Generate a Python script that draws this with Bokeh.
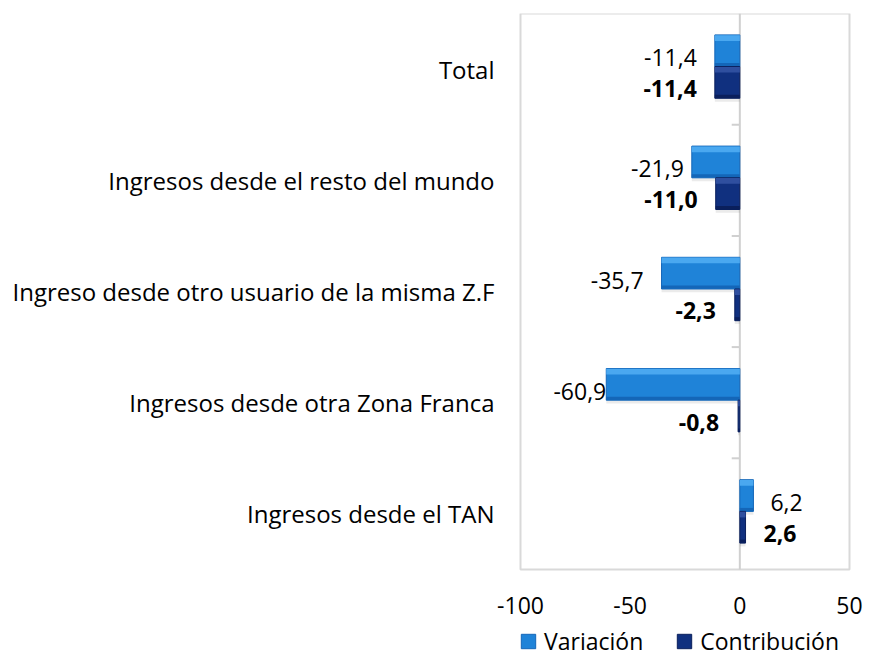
from bokeh.plotting import figure
from bokeh.models import (ColumnDataSource, Range1d, FixedTicker, Legend,
                          LegendItem)
from bokeh.core.properties import value
from bokeh.embed import file_html
from bokeh.resources import INLINE

# ---------------- data ----------------
categories = ["Total",
              "Ingresos desde el resto del mundo",
              "Ingreso desde otro usuario de la misma Z.F",
              "Ingresos desde otra Zona Franca",
              "Ingresos desde el TAN"]
variacion = [-11.4, -21.9, -35.7, -60.9, 6.2]
contribucion = [-11.4, -11.0, -2.3, -0.8, 2.6]
x_ticks = [-100, -50, 0, 50]
x_tick_labels = ["-100", "-50", "0", "50"]
series_names = ["Variación", "Contribución"]

# label gaps (px) between bar end and its data label
gap_var = [18, 8, 18, 0, 17]
gap_con = [18, 18, 19, 19, 18]

# ---------------- layout constants (px) ----------------
FONT = "Open Sans"
FIG_W, FIG_H = 863, 658
FRAME_LEFT, FRAME_TOP = 496, 13      # drawing area (wider than the chart box)
CHART_LEFT = 520                     # left edge of the bordered chart box
CHART_W, CHART_H = 329, 556
VAR_COLORS = ("#1f83d8", "#4aa8f0", "#1466b8")
CON_COLORS = ("#10307f", "#2f4f9f", "#0a1f5c")
GRAY = "#d0d0d0"

n = len(categories)
pos = [n - 1 - i for i in range(n)]          # Total on top
H = 0.285
y_var = [p + 0.165 for p in pos]
y_con = [p - 0.12 for p in pos]

px_x = CHART_W / (x_ticks[-1] - x_ticks[0])
px_y = CHART_H / n
x_start = x_ticks[0] - (CHART_LEFT - FRAME_LEFT) / px_x
x_end = x_ticks[-1] + (FIG_W - CHART_LEFT - CHART_W) / px_x
y_start = -0.5 - (FIG_H - FRAME_TOP - CHART_H) / px_y


def fmt(v):
    return f"{v:.1f}".replace(".", ",")


def src(vals, ys, gaps):
    return ColumnDataSource(dict(
        y=ys, v=vals, zero=[0] * len(vals),
        ytop=[y + H * 0.40 for y in ys],
        ybot=[y - H * 0.44 for y in ys],
        yshadow=[y - 0.03 for y in ys],
        lab=[fmt(v) for v in vals],
        align=["right" if v < 0 else "left" for v in vals],
        xoff=[-g if v < 0 else g for v, g in zip(vals, gaps)],
    ))


s_var = src(variacion, y_var, gap_var)
s_con = src(contribucion, y_con, gap_con)

p = figure(width=FIG_W, height=FIG_H,
           x_range=Range1d(x_start, x_end),
           y_range=Range1d(y_start, n - 0.5),
           x_axis_location=None,
           output_backend="svg", toolbar_location=None,
           min_border_left=FRAME_LEFT, min_border_right=0,
           min_border_top=FRAME_TOP, min_border_bottom=0)

p.background_fill_color = "white"
p.border_fill_color = "white"
p.outline_line_color = None
p.grid.visible = False

# y axis with category names
p.yaxis.ticker = FixedTicker(ticks=pos)
p.yaxis.major_label_overrides = {pp: c for pp, c in zip(pos, categories)}
p.yaxis.axis_line_color = None
p.yaxis.major_tick_line_color = None
p.yaxis.minor_tick_line_color = None
p.yaxis.major_tick_in = 0
p.yaxis.major_tick_out = 0
p.yaxis.major_label_text_font = FONT
p.yaxis.major_label_text_font_size = "24px"
p.yaxis.major_label_text_color = "#000000"
p.yaxis.major_label_standoff = 2

# chart border
p.quad(left=[x_ticks[0]], right=[x_ticks[-1]], bottom=[-0.5], top=[n - 0.5],
       fill_color=None, line_color="#d9d9d9", line_width=2)
# zero line
p.segment(x0=[0], x1=[0], y0=[-0.5], y1=[n - 0.5], line_color=GRAY,
          line_width=2)
# category separator ticks on the zero axis
bounds = [i + 0.5 for i in range(n - 1)]
p.segment(x0=[-3.7] * len(bounds), x1=[0] * len(bounds), y0=bounds, y1=bounds,
          line_color=GRAY, line_width=2)

# x tick labels under the chart
p.text(x=x_ticks, y=[-0.5] * len(x_ticks), text=x_tick_labels, y_offset=36,
       text_align="center", text_baseline="middle", text_font=value(FONT),
       text_font_size="23px", text_color="#000000")


def bevel_bars(s, colors):
    base, light, dark = colors
    p.hbar(y="yshadow", left="zero", right="v", height=H, source=s,
           fill_color="#000000", fill_alpha=0.08, line_color=None)
    r = p.hbar(y="y", left="zero", right="v", height=H, source=s,
               fill_color=base, line_color=dark, line_width=1)
    p.hbar(y="ytop", left="zero", right="v", height=H * 0.18, source=s,
           fill_color=light, line_color=None)
    p.hbar(y="ybot", left="zero", right="v", height=H * 0.1, source=s,
           fill_color=dark, line_color=None)
    return r


r_var = bevel_bars(s_var, VAR_COLORS)
r_con = bevel_bars(s_con, CON_COLORS)

p.text(x="v", y="y", text="lab", source=s_var, x_offset="xoff", y_offset=7,
       text_align="align", text_baseline="middle", text_font=value(FONT),
       text_font_size="23px", text_color="#000000")
p.text(x="v", y="y", text="lab", source=s_con, x_offset="xoff", y_offset=6,
       text_align="align", text_baseline="middle", text_font=value(FONT),
       text_font_size="23px", text_font_style="bold", text_color="#000000")

legend = Legend(items=[LegendItem(label=series_names[0], renderers=[r_var]),
                       LegendItem(label=series_names[1], renderers=[r_con])],
                orientation="horizontal",
                location=(CHART_LEFT - FRAME_LEFT - 1, 1),
                label_text_font=FONT, label_text_font_size="23px",
                label_text_color="#000000",
                glyph_width=18, glyph_height=18, label_standoff=7,
                spacing=32, padding=0, margin=0,
                border_line_color=None, background_fill_alpha=0)
p.add_layout(legend, "center")

open("out.html", "w").write(file_html(p, INLINE))
